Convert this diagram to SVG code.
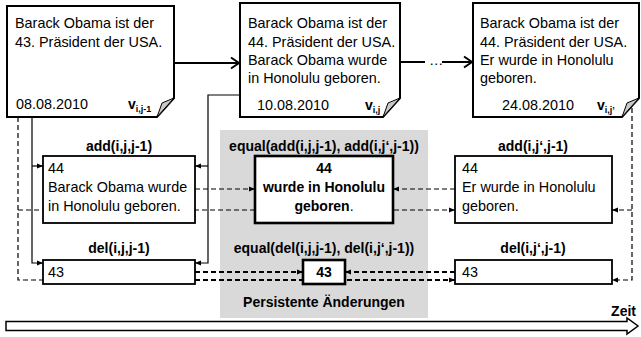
<svg xmlns="http://www.w3.org/2000/svg" width="641" height="337" viewBox="0 0 641 337">
<style>
.doc{fill:#fff;stroke:#000;stroke-width:2}
.fold{fill:#c8c8c8;stroke:#000;stroke-width:1;stroke-linejoin:round}
.box{fill:#fff;stroke:#000;stroke-width:1.8}
.boxb{stroke-width:2.6}
.t{font-family:'Liberation Sans',Arial,sans-serif;font-size:14.4px;fill:#000}
.b{font-weight:bold;font-size:14px}
.c{text-anchor:middle}
.sub{font-size:9px}
.ln{fill:none;stroke:#000;stroke-width:1.2}
.thk{stroke-width:2}
.ds{stroke-dasharray:5 3}
</style>
<defs>
<marker id="open" markerUnits="userSpaceOnUse" markerWidth="12" markerHeight="14" refX="10" refY="7" orient="auto">
<path d="M2,1.5 L10,7 L2,12.5" fill="none" stroke="#000" stroke-width="2"/>
</marker>
<marker id="tri" markerUnits="userSpaceOnUse" markerWidth="6" markerHeight="6" refX="6" refY="3" orient="auto">
<path d="M0,0.5 L6,3 L0,5.5 Z" fill="#000"/>
</marker>
</defs>

<rect id="persistent-area" x="220" y="130" width="208" height="188" fill="#d9d9d9"/>

<g id="connectors">
<path class="ln thk" d="M175,63 H239" marker-end="url(#open)"/>
<path class="ln thk" d="M401,62 H425"/>
<path class="ln thk" d="M442,62 H472" marker-end="url(#open)"/>
<path class="ln" d="M32,117 V263 H43" marker-end="url(#tri)"/>
<path class="ln" d="M32,166 H43" marker-end="url(#tri)"/>
<path class="ln" d="M240,95 H208 V263 H195" marker-end="url(#tri)"/>
<path class="ln" d="M208,166 H195" marker-end="url(#tri)"/>
<path class="ln ds" d="M18,117 V280 H43"/>
<path class="ln thk ds" d="M43,280 H455" marker-end="url(#tri)"/>
<path class="ln ds" d="M18,210 H455" marker-end="url(#tri)"/>
<path class="ln ds" d="M195,189 H255" marker-end="url(#tri)"/>
<path class="ln ds" d="M455,189 H393" marker-end="url(#tri)"/>
<path class="ln thk ds" d="M195,272 H303" marker-end="url(#tri)"/>
<path class="ln thk ds" d="M455,272 H345" marker-end="url(#tri)"/>
<path class="ln ds" d="M632,108 V280 H612" marker-end="url(#tri)"/>
<path class="ln ds" d="M632,210 H612" marker-end="url(#tri)"/>
</g>
<text class="t" x="429" y="65">…</text>

<g id="doc-v1">
<path class="doc" d="M7,6 H174 V98 L157,117 H7 Z"/>
<path class="fold" d="M157,117 L162,103 L174,98 Z"/>
<text class="t" x="15" y="28">Barack Obama ist der</text>
<text class="t" x="15" y="47">43. Präsident der USA.</text>
<text class="t" x="16" y="109">08.08.2010</text>
<text class="t b" x="128" y="109">v<tspan class="sub" dy="3">i,j-1</tspan></text>
</g>

<g id="doc-v2">
<path class="doc" d="M240,3 H400 V98 L383,117 H240 Z"/>
<path class="fold" d="M383,117 L388,103 L400,98 Z"/>
<text class="t" x="248" y="28">Barack Obama ist der</text>
<text class="t" x="248" y="47">44. Präsident der USA.</text>
<text class="t" x="248" y="65">Barack Obama wurde</text>
<text class="t" x="248" y="83">in Honolulu geboren.</text>
<text class="t" x="257" y="110">10.08.2010</text>
<text class="t b" x="365" y="110">v<tspan class="sub" dy="3">i,j</tspan></text>
</g>

<g id="doc-v3">
<path class="doc" d="M473,3 H639 V98 L622,117 H473 Z"/>
<path class="fold" d="M622,117 L627,103 L639,98 Z"/>
<text class="t" x="480" y="28">Barack Obama ist der</text>
<text class="t" x="480" y="47">44. Präsident der USA.</text>
<text class="t" x="480" y="65">Er wurde in Honolulu</text>
<text class="t" x="480" y="83">geboren.</text>
<text class="t" x="502" y="110">24.08.2010</text>
<text class="t b" x="597" y="110">v<tspan class="sub" dy="3">i,j’</tspan></text>
</g>

<g id="add-left">
<text class="t b c" x="119" y="151">add(i,j,j-1)</text>
<rect class="box" x="43" y="156" width="152" height="67"/>
<text class="t" x="48" y="173">44</text>
<text class="t" x="48" y="192">Barack Obama wurde</text>
<text class="t" x="48" y="211">in Honolulu geboren.</text>
</g>

<g id="add-equal">
<text class="t b c" x="324" y="151">equal(add(i,j,j-1), add(i,j‘,j-1))</text>
<rect class="box boxb" x="255" y="156" width="138" height="67"/>
<text class="t b c" x="324" y="173">44</text>
<text class="t b c" x="324" y="192">wurde in Honolulu</text>
<text class="t b c" x="324" y="211">geboren<tspan font-weight="normal">.</tspan></text>
</g>

<g id="add-right">
<text class="t b c" x="533" y="151">add(i,j‘,j-1)</text>
<rect class="box" x="455" y="156" width="157" height="67"/>
<text class="t" x="462" y="173">44</text>
<text class="t" x="462" y="192">Er wurde in Honolulu</text>
<text class="t" x="462" y="211">geboren.</text>
</g>

<g id="del-left">
<text class="t b c" x="119" y="253">del(i,j,j-1)</text>
<rect class="box" x="43" y="260" width="152" height="24"/>
<text class="t" x="48" y="277">43</text>
</g>

<g id="del-equal">
<text class="t b c" x="324" y="253">equal(del(i,j,j-1), del(i,j‘,j-1))</text>
<rect class="box boxb" x="303" y="260" width="42" height="24"/>
<text class="t b c" x="324" y="277">43</text>
</g>

<g id="del-right">
<text class="t b c" x="533" y="253">del(i,j‘,j-1)</text>
<rect class="box" x="455" y="260" width="157" height="24"/>
<text class="t" x="462" y="277">43</text>
</g>

<text class="t b c" x="324" y="307">Persistente Änderungen</text>

<g id="time-axis">
<path d="M6,321.5 H627 V318 L638,326 L627,334 V330.5 H6 Z" fill="#fff" stroke="#000" stroke-width="1.5"/>
<text class="t b" x="636" y="316" text-anchor="end">Zeit</text>
</g>
</svg>
